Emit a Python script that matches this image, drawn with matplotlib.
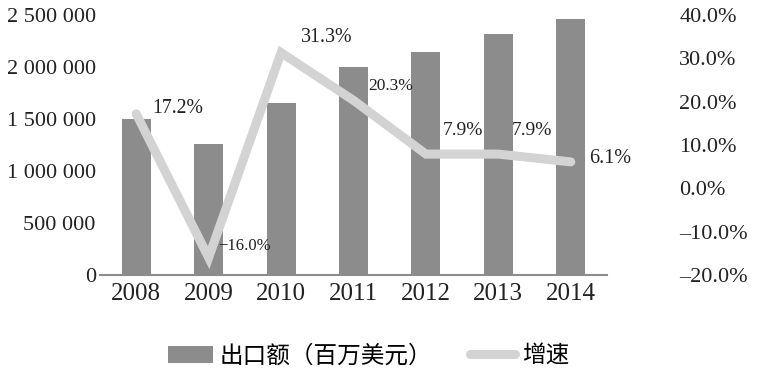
import matplotlib
matplotlib.use("Agg")
import matplotlib.pyplot as plt
from matplotlib.lines import Line2D
from matplotlib.patches import Patch
from matplotlib.ticker import FuncFormatter

years = ["2008", "2009", "2010", "2011", "2012", "2013", "2014"]
exports = [1500000, 1260000, 1654000, 2000000, 2145000, 2318000, 2460000]
growth = [17.2, -16.0, 31.3, 20.3, 7.9, 7.9, 6.1]
growth_labels = ["17.2%", "\u221216.0%", "31.3%", "20.3%", "7.9%", "7.9%", "6.1%"]
left_ticks = [0, 500000, 1000000, 1500000, 2000000, 2500000]
right_ticks = [-20, -10, 0, 10, 20, 30, 40]

# label placement offsets (data units) relative to each point
lab_dx = [0.22, 0.13, 0.27, 0.20, 0.23, 0.19, 0.26]
lab_dy = [1.2, 2.7, 3.6, 3.4, 5.4, 5.4, 0.9]
lab_fs = [14.2, 12, 14.4, 12.5, 14, 14, 14.5]

serif = ["Liberation Serif", "DejaVu Serif"]
cjk = ["Noto Sans CJK SC", "DejaVu Sans"]

fig = plt.figure(figsize=(7.57, 3.78), dpi=100)
ax = fig.add_axes([100/757, 1-275/378, 507/757, 260/378])
ax2 = ax.twinx()

x = list(range(len(years)))
bar_color = "#8c8c8c"
line_color = "#d3d3d3"
ax.bar(x, exports, width=0.4, color=bar_color, zorder=1)
ax.set_ylim(0, 2500000)
ax.set_xlim(-0.5, len(years) - 0.5)
ax.set_yticks(left_ticks)
ax.yaxis.set_major_formatter(FuncFormatter(lambda v, p: f"{int(v):,}".replace(",", " ")))
ax.set_xticks(x)
ax.set_xticklabels(years)

ax2.plot(x, growth, color=line_color, lw=6.5, solid_capstyle="round",
         solid_joinstyle="miter", zorder=3)
ax2.set_ylim(-20, 40)
ax2.set_yticks(right_ticks)
ax2.yaxis.set_major_formatter(FuncFormatter(lambda v, p: f"{v:.1f}%".replace("-", "\u2013")))

for i, (g, lab) in enumerate(zip(growth, growth_labels)):
    ax2.text(i + lab_dx[i], g + lab_dy[i], lab, fontsize=lab_fs[i], family=serif,
             color="#222222", ha="left", va="center", zorder=4)

for a in (ax, ax2):
    for s in a.spines.values():
        s.set_visible(False)
ax.spines["bottom"].set_visible(True)
ax.spines["bottom"].set_color("#8c8c8c")
ax.spines["bottom"].set_linewidth(1.5)

ax.tick_params(axis="y", length=0, pad=3, labelsize=16, labelcolor="#222222")
ax.tick_params(axis="x", length=0, pad=6, labelsize=18, labelcolor="#222222")
ax2.tick_params(axis="y", length=0, pad=52, labelsize=16, labelcolor="#222222")
for lab in ax.get_yticklabels() + ax.get_xticklabels() + ax2.get_yticklabels():
    lab.set_family(serif)
for lab in ax2.get_yticklabels():
    lab.set_horizontalalignment("left")

handles = [Patch(facecolor=bar_color, edgecolor="none"),
           Line2D([0], [0], color=line_color, lw=6.5, solid_capstyle="round")]
leg = fig.legend(handles, ["出口额（百万美元）", "增速"], loc="center",
                 bbox_to_anchor=(0.487, 1-356/378), ncol=2, frameon=False,
                 prop={"family": cjk, "size": 17}, handlelength=1.9,
                 handleheight=0.7, columnspacing=1.6, handletextpad=0.3)

fig.savefig("out.png", dpi=100)
